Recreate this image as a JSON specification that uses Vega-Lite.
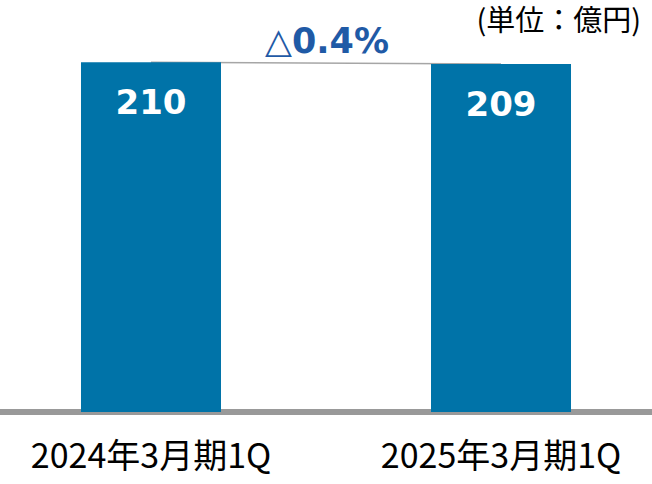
{
  "$schema": "https://vega.github.io/schema/vega-lite/v6.json",
  "autosize": "none",
  "width": 652,
  "height": 412,
  "padding": {"left": 0, "right": 0, "top": 0, "bottom": 72},
  "background": "white",
  "config": {"view": {"stroke": null}},
  "data": {"values": [
    {"period": "2024年3月期1Q", "value": 210, "label": "210"},
    {"period": "2025年3月期1Q", "value": 209, "label": "209"}
  ]},
  "encoding": {
    "x": {
      "field": "period", "type": "nominal", "sort": null,
      "scale": {"paddingInner": 0.6, "paddingOuter": 0.2314},
      "axis": {"title": null, "domain": false, "ticks": false, "tickSize": 0, "labelAngle": 0, "labelFont": "Noto Sans CJK JP", "labelFontSize": 34, "labelColor": "#000000", "labelPadding": 28, "labelLimit": 0, "grid": false}
    }
  },
  "layer": [
    {
      "mark": {"type": "rule", "color": "#999999", "strokeWidth": 6},
      "encoding": {"x": null, "y": {"datum": 0, "type": "quantitative", "scale": {"domain": [0, 247.4], "nice": false, "zero": true}, "axis": null}}
    },
    {
      "mark": {"type": "line", "color": "#a6a6a6", "strokeWidth": 1.5},
      "encoding": {"y": {"field": "value", "type": "quantitative"}}
    },
    {
      "mark": {"type": "bar", "color": "#0073A8"},
      "encoding": {"y": {"field": "value", "type": "quantitative"}}
    },
    {
      "mark": {"type": "text", "color": "white", "font": "DejaVu Sans", "fontWeight": "bold", "fontSize": 34, "baseline": "middle", "dy": 42},
      "encoding": {"y": {"field": "value", "type": "quantitative"}, "text": {"field": "label"}}
    },
    {
      "data": {"values": [{"period": "2024年3月期1Q", "value": 210, "note": "△0.4%"}]},
      "mark": {"type": "text", "color": "#1F5AA6", "font": "DejaVu Sans", "fontWeight": "bold", "fontSize": 35, "baseline": "middle", "dy": -20},
      "encoding": {"x": {"field": "period", "type": "nominal", "bandPosition": 1.757}, "y": {"field": "value", "type": "quantitative"}, "text": {"field": "note"}}
    },
    {
      "data": {"values": [{"period": "2025年3月期1Q", "note": "(単位：億円)"}]},
      "mark": {"type": "text", "color": "#000000", "font": "Noto Sans CJK JP", "fontSize": 29, "align": "right", "baseline": "middle"},
      "encoding": {"x": {"field": "period", "type": "nominal", "bandPosition": 1.5}, "y": {"datum": 234, "type": "quantitative"}, "text": {"field": "note"}}
    }
  ]
}
